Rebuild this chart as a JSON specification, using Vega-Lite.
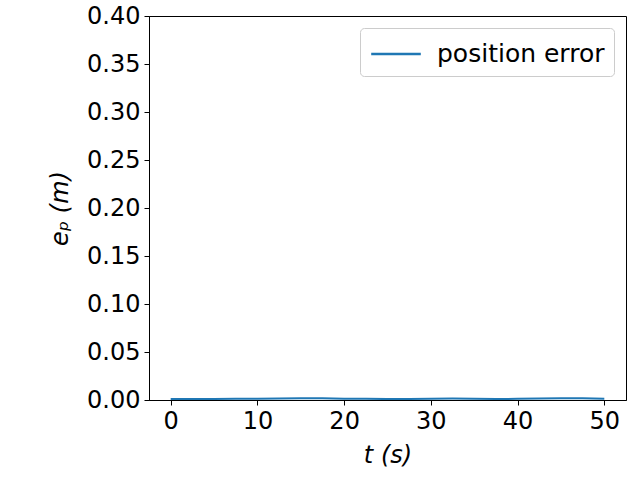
{
  "$schema": "https://vega.github.io/schema/vega-lite/v6.json",
  "autosize": "none",
  "width": 477,
  "height": 384,
  "padding": {"left": 149, "top": 16, "right": 14, "bottom": 80},
  "background": "white",
  "config": {
    "font": "DejaVu Sans",
    "view": {"stroke": "black", "strokeWidth": 1},
    "axis": {
      "grid": false,
      "domainColor": "black",
      "tickColor": "black",
      "tickSize": 5,
      "labelFontSize": 24,
      "labelColor": "black",
      "titleFontSize": 24,
      "titleColor": "black",
      "titleFontWeight": "normal",
      "titleFontStyle": "italic",
      "labelPadding": 4
    }
  },
  "data": {
    "values": [
      {"t": 0, "e": 0.0010, "s": "position error"},
      {"t": 2.5, "e": 0.0010, "s": "position error"},
      {"t": 5, "e": 0.0011, "s": "position error"},
      {"t": 7.5, "e": 0.0013, "s": "position error"},
      {"t": 10, "e": 0.0014, "s": "position error"},
      {"t": 12.5, "e": 0.0015, "s": "position error"},
      {"t": 15, "e": 0.0017, "s": "position error"},
      {"t": 17.5, "e": 0.0019, "s": "position error"},
      {"t": 20, "e": 0.0014, "s": "position error"},
      {"t": 22.5, "e": 0.0012, "s": "position error"},
      {"t": 25, "e": 0.0010, "s": "position error"},
      {"t": 27.5, "e": 0.0011, "s": "position error"},
      {"t": 30, "e": 0.0013, "s": "position error"},
      {"t": 32.5, "e": 0.0015, "s": "position error"},
      {"t": 35, "e": 0.0013, "s": "position error"},
      {"t": 37.5, "e": 0.0011, "s": "position error"},
      {"t": 40, "e": 0.0012, "s": "position error"},
      {"t": 42.5, "e": 0.0016, "s": "position error"},
      {"t": 45, "e": 0.0019, "s": "position error"},
      {"t": 47.5, "e": 0.0017, "s": "position error"},
      {"t": 50, "e": 0.0014, "s": "position error"}
    ]
  },
  "mark": {"type": "line", "strokeWidth": 2, "clip": true},
  "encoding": {
    "x": {
      "field": "t", "type": "quantitative",
      "scale": {"domain": [-2.5, 52.5], "nice": false, "zero": false},
      "axis": {"values": [0, 10, 20, 30, 40, 50], "title": "t (s)", "titlePadding": 10}
    },
    "y": {
      "field": "e", "type": "quantitative",
      "scale": {"domain": [0, 0.4], "nice": false},
      "axis": {"values": [0, 0.05, 0.1, 0.15, 0.2, 0.25, 0.3, 0.35, 0.4], "format": ".2f", "title": "eₚ (m)", "titlePadding": 14}
    },
    "color": {
      "field": "s", "type": "nominal",
      "scale": {"range": ["#1f77b4"]},
      "legend": {
        "title": null,
        "orient": "top-right",
        "offset": 12,
        "labelFontSize": 25,
        "labelColor": "black",
        "labelLimit": 400,
        "symbolType": "M-1.6,0H1.6",
        "symbolStrokeWidth": 2.5,
        "symbolSize": 961,
        "symbolOffset": 10,
        "labelOffset": 24,
        "padding": 9,
        "strokeColor": "#cccccc",
        "cornerRadius": 4,
        "fillColor": "white"
      }
    }
  }
}
